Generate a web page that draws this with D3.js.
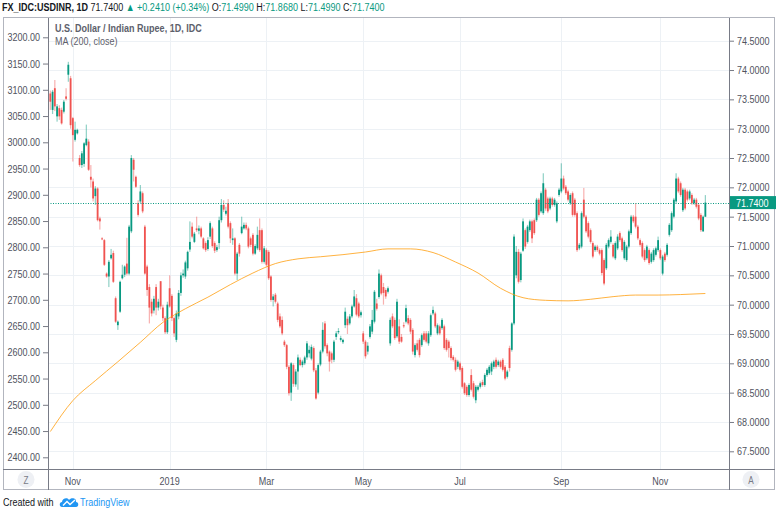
<!DOCTYPE html>
<html>
<head>
<meta charset="utf-8">
<script src="https://cdn.jsdelivr.net/npm/d3@7"></script>
<style>
  html, body { margin: 0; padding: 0; background: #fff; }
  svg { display: block; font-family: "Liberation Sans", Arial, sans-serif; }
</style>
</head>
<body>
<svg id="chart" width="778" height="509"></svg>
<script>
// trading days (weekdays) from first to last bar
const firstDay = "2018-10-18";
const lastDay = "2019-11-29";

// daily OHLC, USD/INR
const opens = [
  73.60,73.32,73.69,73.21,73.35,73.32,73.29,73.55,73.92,73.86,
  73.18,72.81,72.92,72.50,72.38,72.40,72.72,72.78,72.18,72.10,
  71.85,71.98,71.47,71.13,71.10,70.53,70.48,70.79,70.88,70.11,
  69.65,69.88,70.45,70.51,70.70,70.53,71.25,72.47,72.18,71.73,
  71.76,71.90,71.33,70.65,70.30,70.05,69.90,70.30,69.95,70.40,
  69.95,69.77,69.53,70.28,70.15,69.77,69.40,69.80,70.20,70.50,
  70.48,70.62,70.94,71.33,71.07,71.30,71.26,71.30,71.13,71.05,
  70.95,71.16,71.30,71.05,70.93,71.05,71.44,71.70,71.55,71.73,
  71.39,71.10,71.13,70.53,71.02,71.22,71.30,71.36,71.30,71.13,
  71.19,70.87,70.96,71.27,71.27,70.73,70.93,70.90,70.48,70.08,
  70.17,70.02,69.80,69.74,69.37,69.31,68.94,68.50,68.97,68.64,
  68.86,69.06,68.97,69.00,69.10,69.17,69.08,69.26,68.88,68.50,
  68.98,69.20,69.68,69.31,69.20,69.17,69.06,69.45,69.53,69.40,
  69.36,69.65,69.76,69.68,69.80,69.97,70.11,70.02,69.82,69.51,
  69.37,69.20,69.45,69.54,69.71,70.02,70.13,70.50,70.30,70.25,
  70.22,69.34,69.80,69.74,69.46,69.63,69.45,69.65,69.71,69.77,
  69.74,69.57,69.14,69.34,69.40,69.31,69.51,69.51,69.34,69.48,
  69.85,69.85,69.51,69.63,69.60,69.63,69.40,69.37,69.26,69.11,
  69.06,68.94,69.00,68.92,68.66,68.60,68.46,68.80,68.66,68.37,
  68.55,68.60,68.68,68.63,68.80,68.83,68.86,68.94,69.06,68.97,
  69.03,69.06,68.94,68.77,69.26,69.23,69.68,70.50,70.90,70.42,
  70.92,71.27,71.07,71.27,71.42,71.44,71.44,71.79,71.59,71.56,
  71.96,71.81,71.64,71.81,71.70,71.42,71.87,71.93,72.15,72.01,
  71.93,71.73,71.90,71.79,71.56,70.96,70.99,71.79,71.50,71.39,
  71.27,71.05,70.93,70.99,70.93,70.93,70.76,70.62,70.99,71.07,
  71.02,70.79,70.96,71.22,71.13,70.79,70.76,70.99,71.22,71.50,
  71.50,71.33,71.10,71.05,70.93,70.79,70.93,70.73,70.76,70.85,
  70.93,70.93,70.53,70.87,70.85,71.19,71.27,71.50,71.76,72.15,
  72.07,71.61,71.96,71.93,71.81,71.87,71.73,71.79,71.70,71.53,
  71.25,71.499
];
const highs = [
  73.65,73.66,73.83,73.42,73.40,73.36,73.49,73.69,74.14,73.90,
  73.20,73.12,73.00,72.55,72.62,72.77,73.07,72.82,72.38,72.15,
  72.02,72.00,71.50,71.15,71.12,70.55,70.76,70.95,70.92,70.14,
  69.73,70.41,70.68,70.67,71.14,71.36,72.55,72.50,72.20,71.78,
  72.04,71.93,71.36,70.68,70.35,70.10,70.15,70.35,70.10,70.40,
  70.00,69.80,70.05,70.50,70.18,69.80,69.90,70.25,70.55,70.60,
  70.75,70.92,71.42,71.40,71.24,71.50,71.35,71.33,71.15,71.08,
  71.15,71.42,71.33,71.08,71.02,71.50,71.80,71.78,71.67,71.80,
  71.42,71.30,71.15,70.90,71.05,71.50,71.40,71.40,71.33,71.16,
  71.22,71.03,71.33,71.47,71.30,71.00,70.96,70.93,70.50,70.18,
  70.20,70.05,69.85,69.80,69.40,69.33,68.97,69.02,69.00,68.90,
  69.15,69.10,69.06,69.13,69.38,69.30,69.32,69.29,68.92,69.00,
  69.23,69.70,69.72,69.34,69.22,69.20,69.40,69.55,69.60,69.47,
  69.42,69.95,69.80,69.84,70.00,70.25,70.18,70.05,69.90,69.55,
  69.40,69.36,69.67,69.91,70.25,70.10,70.60,70.53,70.37,70.28,
  70.31,69.78,69.85,69.78,70.10,69.75,69.50,69.70,70.00,69.82,
  69.77,69.60,69.34,69.40,69.43,69.51,69.55,69.55,69.55,69.85,
  69.97,69.88,69.68,69.66,69.77,69.66,69.43,69.40,69.29,69.14,
  69.10,69.06,69.03,68.95,68.68,68.63,68.66,68.90,68.70,68.63,
  68.63,68.69,68.72,68.83,68.92,68.97,69.03,69.06,69.10,69.06,
  69.06,69.09,68.97,68.89,69.30,69.70,71.20,71.00,70.95,70.90,
  71.47,71.30,71.36,71.45,71.45,71.47,71.82,71.82,71.93,72.24,
  71.99,71.84,71.84,71.84,71.82,71.76,71.99,72.41,72.20,72.04,
  71.96,71.90,71.93,71.82,71.59,71.05,71.59,71.99,71.53,71.42,
  71.30,71.08,71.02,71.02,70.96,70.96,70.79,71.05,71.13,71.27,
  71.05,71.08,71.20,71.25,71.16,71.10,71.02,71.28,71.53,71.53,
  71.73,71.36,71.13,71.08,70.96,71.02,70.96,70.90,70.96,70.99,
  71.16,70.96,70.85,70.90,71.05,71.39,71.59,71.82,72.24,72.18,
  72.10,71.99,71.99,71.96,71.96,71.90,71.82,71.82,71.73,71.56,
  71.52,71.868
];
const lows = [
  73.32,73.25,73.30,73.12,73.15,73.07,73.26,73.48,73.80,73.00,
  72.44,72.78,72.90,72.35,72.33,72.35,72.70,72.28,72.00,71.76,
  71.70,71.42,71.28,71.10,70.66,70.46,70.30,70.77,70.37,69.69,
  69.57,69.86,70.43,70.47,70.50,70.50,71.22,72.10,71.99,71.50,
  71.73,71.56,70.51,70.15,69.68,69.80,69.85,69.82,69.90,69.92,
  69.72,69.50,69.50,69.95,69.72,69.45,69.36,69.75,70.15,70.46,
  70.44,70.58,70.90,71.13,71.05,71.24,71.20,71.13,70.94,70.90,
  70.92,71.12,70.97,70.88,70.90,70.95,71.40,71.58,71.52,71.30,
  71.05,71.02,70.50,70.42,70.82,71.20,71.28,71.27,70.96,70.98,
  70.84,70.85,70.93,70.90,70.70,70.70,70.65,70.42,70.05,69.97,
  70.02,69.70,69.60,69.48,69.28,68.90,68.45,68.36,68.60,68.60,
  68.55,68.95,68.93,68.97,69.06,69.10,69.05,68.85,68.38,68.47,
  68.95,69.17,69.25,69.12,68.86,69.00,69.02,69.40,69.50,69.37,
  69.33,69.60,69.50,69.65,69.77,69.95,69.80,69.77,69.78,69.33,
  69.08,69.15,69.42,69.50,69.68,69.90,70.10,70.16,70.00,70.10,
  70.19,69.30,69.60,69.40,69.43,69.33,69.35,69.60,69.68,69.65,
  69.50,69.15,69.10,69.20,69.10,69.28,69.37,69.34,69.30,69.45,
  69.82,69.60,69.48,69.48,69.57,69.23,69.20,69.10,69.05,69.03,
  68.86,68.90,68.86,68.57,68.46,68.43,68.43,68.52,68.40,68.32,
  68.52,68.57,68.60,68.60,68.77,68.80,68.80,68.90,68.91,68.94,
  68.91,68.86,68.71,68.74,68.86,69.20,69.65,70.45,70.36,70.38,
  70.90,70.95,71.04,71.24,71.05,71.19,71.41,71.50,71.56,71.53,
  71.60,71.56,71.61,71.67,71.67,71.39,71.84,71.90,71.95,71.87,
  71.76,71.70,71.50,71.50,70.90,70.93,70.96,71.47,71.22,71.13,
  71.04,70.79,70.90,70.90,70.84,70.50,70.33,70.59,70.96,71.04,
  70.79,70.76,70.93,71.07,70.90,70.76,70.73,70.96,71.19,71.39,
  71.30,71.10,70.99,70.79,70.73,70.76,70.68,70.70,70.73,70.82,
  70.90,70.76,70.50,70.73,70.82,71.16,71.24,71.47,71.73,71.90,
  71.84,71.58,71.61,71.76,71.78,71.70,71.70,71.64,71.44,71.24,
  71.24,71.499
];
const closes = [
  73.46,73.63,73.38,73.38,73.21,73.09,73.46,73.51,74.09,73.06,
  72.89,72.98,72.98,72.38,72.58,72.75,72.83,72.30,72.13,71.81,
  71.98,71.44,71.42,71.12,70.68,70.48,70.73,70.85,70.39,69.71,
  69.71,70.39,70.51,70.65,70.53,71.33,72.50,72.30,72.01,71.53,
  71.93,71.59,70.53,70.25,69.95,69.85,70.10,69.95,70.05,69.97,
  69.77,69.53,70.00,69.97,69.77,69.51,69.85,70.20,70.50,70.53,
  70.72,70.90,71.07,71.16,71.21,71.27,71.30,71.16,70.96,70.93,
  71.10,71.39,71.00,70.92,70.98,71.44,71.70,71.62,71.60,71.33,
  71.13,71.13,70.53,70.87,70.87,71.33,71.36,71.30,70.99,71.02,
  70.87,71.00,71.19,70.93,70.73,70.96,70.68,70.45,70.08,70.14,
  70.05,69.74,69.63,69.51,69.31,68.94,68.49,69.00,68.65,68.86,
  69.10,68.97,69.03,69.10,69.34,69.23,69.28,68.88,68.40,68.97,
  69.20,69.57,69.29,69.17,69.03,69.06,69.37,69.51,69.55,69.43,
  69.40,69.88,69.65,69.80,69.97,70.14,69.83,69.80,69.87,69.37,
  69.12,69.30,69.63,69.74,70.22,69.93,70.53,70.19,70.20,70.14,
  70.28,69.74,69.63,69.43,70.05,69.37,69.37,69.63,69.94,69.68,
  69.54,69.20,69.31,69.23,69.14,69.48,69.40,69.37,69.51,69.82,
  69.91,69.63,69.65,69.51,69.74,69.26,69.23,69.26,69.09,69.06,
  68.89,69.03,68.89,68.60,68.49,68.46,68.63,68.55,68.43,68.60,
  68.60,68.66,68.63,68.80,68.89,68.94,69.00,69.03,68.94,69.03,
  68.94,68.89,68.74,68.86,68.92,69.68,71.16,70.90,70.39,70.87,
  71.42,70.99,71.33,71.42,71.13,71.22,71.79,71.53,71.90,72.07,
  71.64,71.59,71.81,71.70,71.79,71.73,71.96,72.15,71.98,71.90,
  71.79,71.87,71.53,71.53,70.93,71.02,71.56,71.50,71.25,71.16,
  71.07,70.82,70.99,70.93,70.87,70.54,70.36,71.02,71.10,71.16,
  70.82,71.05,71.16,71.10,70.93,71.07,70.99,71.25,71.50,71.42,
  71.33,71.13,71.02,70.82,70.76,70.99,70.71,70.87,70.93,70.96,
  71.10,70.79,70.82,70.76,71.02,71.36,71.56,71.79,72.15,71.93,
  71.87,71.96,71.64,71.79,71.93,71.73,71.79,71.67,71.47,71.27,
  71.499,71.74
];

// MA(200, close) as drawn against the left scale
const maDates = ["2018-10-18","2018-11-01","2018-11-15","2018-11-29","2018-12-13","2018-12-27",
  "2019-01-10","2019-01-24","2019-02-07","2019-02-21","2019-03-07","2019-03-21","2019-04-04",
  "2019-04-18","2019-05-02","2019-05-16","2019-05-30","2019-06-13","2019-06-27","2019-07-11",
  "2019-07-25","2019-08-08","2019-08-22","2019-09-05","2019-09-19","2019-10-03","2019-10-17",
  "2019-10-31","2019-11-14","2019-11-29"];
const maValues = [2449,2508,2546,2582,2619,2657,2683,2705,2729,2751,2769,2778,2782,2786,2791,
  2797,2797,2790,2772,2751,2722,2704,2699,2698,2701,2706,2709,2709,2710,2712];

// axis ticks
const monthTicks = ["2018-11-01","2019-01-01","2019-03-01","2019-05-01","2019-07-01","2019-09-02","2019-11-01"];
const monthLabels = ["Nov","2019","Mar","May","Jul","Sep","Nov"];
const leftTicks = [2400,2450,2500,2550,2600,2650,2700,2750,2800,2850,2900,2950,3000,3050,3100,3150,3200];
const rightTicks = [67.5,68,68.5,69,69.5,70,70.5,71,71.5,72,72.5,73,73.5,74,74.5];

const lastPrice = 71.74;

const upColor = "#089981", downColor = "#f05350";
const gridColor = "#edf1f5", axisColor = "#787b86", textColor = "#50535e";
const squeeze = 0.82; // narrow text like the original UI font

const fmtKey = d3.timeFormat("%Y-%m-%d");
const parseKey = d3.timeParse("%Y-%m-%d");
const days = d3.timeDay.range(parseKey(firstDay), d3.timeDay.offset(parseKey(lastDay), 1))
  .filter(d => d.getDay() !== 0 && d.getDay() !== 6)
  .map(fmtKey);

const bars = days.map((k, i) => ({ key: k, o: opens[i], h: highs[i], l: lows[i], c: closes[i] }));

const svg = d3.select("#chart");
const plot = { left: 48, right: 729, top: 18, bottom: 469 };

const x = d3.scaleBand().domain(days).range([49.2, 706.5]).padding(0);
const yR = d3.scaleLinear().domain([67.5, 74.5]).range([451.3, 40.7]);
const yL = d3.scaleLinear().domain([2400, 3200]).range([457.3, 37.3]);
const cx = k => x(k) + x.bandwidth() / 2;

// squeeze text horizontally around its anchor
function narrow(sel) {
  sel.each(function () {
    const t = d3.select(this);
    const tx = +t.attr("x") || 0, ty = +t.attr("y") || 0;
    t.attr("x", null).attr("y", null)
      .attr("transform", `translate(${tx},${ty}) scale(${squeeze},1)`);
  });
}

svg.append("defs").append("clipPath").attr("id", "clip")
  .append("rect").attr("x", plot.left).attr("y", plot.top)
  .attr("width", plot.right - plot.left).attr("height", plot.bottom - plot.top);

// grid
const grid = svg.append("g");
grid.selectAll(".hg").data(rightTicks).enter().append("line")
  .attr("x1", plot.left).attr("x2", plot.right)
  .attr("y1", d => Math.round(yR(d)) + 0.5).attr("y2", d => Math.round(yR(d)) + 0.5)
  .attr("stroke", gridColor);
grid.selectAll(".vg").data(monthTicks).enter().append("line")
  .attr("x1", d => Math.round(cx(d)) + 0.5).attr("x2", d => Math.round(cx(d)) + 0.5)
  .attr("y1", plot.top).attr("y2", plot.bottom)
  .attr("stroke", gridColor);

const g = svg.append("g").attr("clip-path", "url(#clip)");

// candles
const bodyW = x.bandwidth() * 0.8;
g.selectAll(".wick").data(bars).enter().append("rect")
  .attr("x", d => cx(d.key) - 0.6).attr("width", 1.2)
  .attr("y", d => yR(d.h)).attr("height", d => Math.max(1, yR(d.l) - yR(d.h)))
  .attr("fill", d => d.c >= d.o ? upColor : downColor)
  .attr("fill-opacity", 0.45);
g.selectAll(".body").data(bars).enter().append("rect")
  .attr("x", d => cx(d.key) - bodyW / 2).attr("width", bodyW)
  .attr("y", d => yR(Math.max(d.o, d.c)))
  .attr("height", d => Math.max(1, Math.abs(yR(d.o) - yR(d.c))))
  .attr("fill", d => d.c >= d.o ? upColor : downColor);

// moving average
const ma = maDates.map((k, i) => ({ key: k, v: maValues[i] }));
const maLine = d3.line().x(d => cx(d.key)).y(d => yL(d.v)).curve(d3.curveMonotoneX);
g.append("path").datum(ma).attr("d", maLine)
  .attr("fill", "none").attr("stroke", "#ff9800").attr("stroke-width", 1).attr("stroke-opacity", 0.75);

// last price line
svg.append("line")
  .attr("x1", plot.left).attr("x2", plot.right)
  .attr("y1", Math.round(yR(lastPrice)) + 0.5).attr("y2", Math.round(yR(lastPrice)) + 0.5)
  .attr("stroke", upColor).attr("stroke-dasharray", "1,1.5");

// axes
const leftAxis = svg.append("g").attr("transform", `translate(${plot.left},0)`)
  .call(d3.axisLeft(yL).tickValues(leftTicks).tickFormat(d3.format(".2f")).tickSize(5).tickPadding(3).tickSizeOuter(0));
const rightAxis = svg.append("g").attr("transform", `translate(${plot.right},0)`)
  .call(d3.axisRight(yR).tickValues(rightTicks).tickFormat(d3.format(".4f")).tickSize(5).tickPadding(3).tickSizeOuter(0));
const bottomAxis = svg.append("g").attr("transform", `translate(0,${plot.bottom})`)
  .call(d3.axisBottom(x).tickValues(monthTicks).tickFormat((d, i) => monthLabels[i]).tickSize(0).tickPadding(8));

[leftAxis, rightAxis, bottomAxis].forEach(a => {
  a.select(".domain").remove();
  a.selectAll("line").attr("stroke", axisColor);
  a.selectAll("text").attr("fill", textColor).style("font-size", "11px")
    .style("font-family", "\"Liberation Sans\", Arial, sans-serif");
  narrow(a.selectAll("text"));
});

// frame lines
const frame = svg.append("g").attr("fill", "none");
frame.append("rect").attr("x", 3.5).attr("y", 17.5).attr("width", 771).attr("height", 472).attr("stroke", "#b2b5be");
frame.append("line").attr("x1", plot.left + 0.5).attr("x2", plot.left + 0.5).attr("y1", 18).attr("y2", 490).attr("stroke", axisColor);
frame.append("line").attr("x1", plot.right + 0.5).attr("x2", plot.right + 0.5).attr("y1", 18).attr("y2", 490).attr("stroke", axisColor);
frame.append("line").attr("x1", 3).attr("x2", 775).attr("y1", plot.bottom + 0.5).attr("y2", plot.bottom + 0.5).attr("stroke", axisColor);

// price label
svg.append("rect").attr("x", plot.right + 1).attr("y", yR(lastPrice) - 6.5)
  .attr("width", 46).attr("height", 13).attr("fill", upColor);
svg.append("text").attr("x", plot.right + 7).attr("y", yR(lastPrice) + 4)
  .attr("fill", "#fff").style("font-size", "11px").text(d3.format(".4f")(lastPrice))
  .call(narrow);

// header
const head = svg.append("text").attr("x", 2).attr("y", 11).style("font-size", "11px").attr("fill", "#131722");
head.append("tspan").attr("font-weight", "bold").text("FX_IDC:USDINR, 1D");
head.append("tspan").text("  71.7400 ");
head.append("tspan").attr("fill", upColor).text("▲ +0.2410 (+0.34%)");
[["O:", "71.4990"], ["H:", "71.8680"], ["L:", "71.4990"], ["C:", "71.7400"]].forEach(p => {
  head.append("tspan").text("  " + p[0]);
  head.append("tspan").attr("fill", upColor).text(p[1]);
});
head.call(narrow);

// legend
svg.append("text").attr("x", 55).attr("y", 32).attr("fill", "#5d606b").attr("font-weight", "bold")
  .style("font-size", "11px").text("U.S. Dollar / Indian Rupee, 1D, IDC").call(narrow);
svg.append("text").attr("x", 55).attr("y", 45).attr("fill", "#5d606b")
  .style("font-size", "11px").text("MA (200, close)").call(narrow);

// Z / A buttons
[[26, "Z"], [751, "A"]].forEach(b => {
  svg.append("circle").attr("cx", b[0]).attr("cy", 479.5).attr("r", 8.5).attr("fill", "#eef0f4");
  svg.append("text").attr("x", b[0]).attr("y", 483.5).attr("text-anchor", "middle")
    .attr("fill", "#787b86").style("font-size", "10px").text(b[1]).call(narrow);
});

// footer
svg.append("text").attr("x", 3).attr("y", 506).attr("fill", "#131722").style("font-size", "11px")
  .text("Created with").call(narrow);
const logo = svg.append("g").attr("transform", "translate(60,497)");
logo.append("path").attr("d", "M2,10 C-1,10 -1,5 2,5 C2,1 8,0 9,3 C11,0 17,1 16,5 C19,5 19,10 16,10 Z").attr("fill", "#2196f3");
logo.append("polyline").attr("points", "3,8.5 7,4.5 10,7.5 15,3").attr("fill", "none").attr("stroke", "#fff").attr("stroke-width", 1.4);
svg.append("text").attr("x", 80).attr("y", 506).attr("fill", "#2196f3").style("font-size", "11px")
  .text("TradingView").call(narrow);
</script>
</body>
</html>
